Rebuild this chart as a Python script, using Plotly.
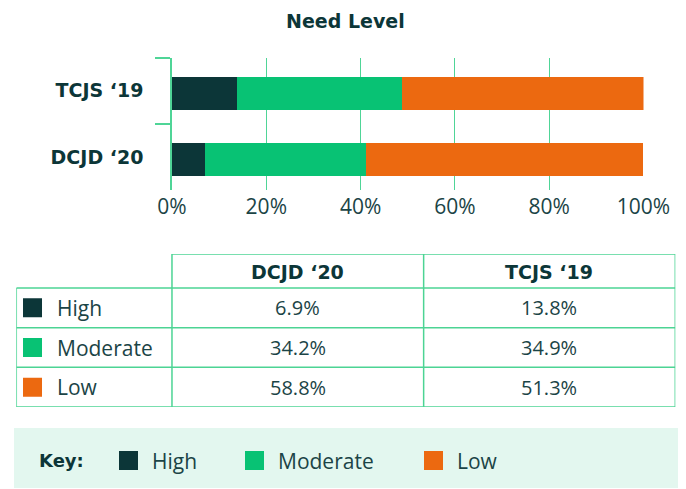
import plotly.graph_objects as go

# ---------------- data ----------------
categories = ["DCJD ‘20", "TCJS ‘19"]          # bottom -> top in the bar chart; also table column order
levels = ["High", "Moderate", "Low"]
high = [6.9, 13.8]
moderate = [34.2, 34.9]
low = [58.8, 51.3]
x_tickvals = [0, 20, 40, 60, 80, 100]
x_ticktext = ["0%", "20%", "40%", "60%", "80%", "100%"]
chart_title = "Need Level"
key_title = "Key:"

# ---------------- style ----------------
W, H = 686, 489
DARK = "#0C3638"
TEXT = "#1B4446"
GRID = "#4FD597"
BORDER = "#4CD494"
KEY_BG = "#E3F7EF"
colors = {"High": "#0C3638", "Moderate": "#08C274", "Low": "#EC6910"}
BOLD_FONT = "DejaVu Sans"
REG_FONT = "Open Sans"

series = {"High": high, "Moderate": moderate, "Low": low}


def px(x):
    return x / W


def py(y):
    return 1 - y / H


fig = go.Figure()

# ---------------- stacked bars ----------------
for lvl in levels:
    fig.add_trace(go.Bar(
        y=categories, x=series[lvl], orientation="h", name=lvl,
        marker=dict(color=colors[lvl], line=dict(width=0)),
        width=0.5, offset=-0.285,
        showlegend=False, hoverinfo="x+name",
        xaxis="x", yaxis="y",
    ))

# ---------------- table (on its own hidden axes, column/row units) ----------------
col_w = [0.6186, 1.0, 1.0]
col_edges = [0.0]
for w in col_w:
    col_edges.append(col_edges[-1] + w)
hdr = 0.857  # header row height relative to a data row
n_rows = len(levels)

shapes = []
line = dict(color=BORDER, width=1.5)
# horizontal lines
shapes.append(dict(type="line", xref="x2", yref="y2", x0=col_edges[1], x1=col_edges[-1], y0=-hdr, y1=-hdr, line=line))
for r in range(n_rows + 1):
    shapes.append(dict(type="line", xref="x2", yref="y2", x0=col_edges[0], x1=col_edges[-1], y0=r, y1=r, line=line))
# vertical lines
shapes.append(dict(type="line", xref="x2", yref="y2", x0=col_edges[0], x1=col_edges[0], y0=0, y1=n_rows, line=line))
for c in range(1, len(col_edges)):
    shapes.append(dict(type="line", xref="x2", yref="y2", x0=col_edges[c], x1=col_edges[c], y0=-hdr, y1=n_rows, line=line))

annotations = []
# header text
for j, cat in enumerate(categories):
    cx = (col_edges[j + 1] + col_edges[j + 2]) / 2
    annotations.append(dict(xref="x2", yref="y2", x=cx, y=-hdr / 2 + 0.02, text=cat, showarrow=False,
                            font=dict(family=BOLD_FONT, size=19, color=DARK, weight="bold"),
                            xanchor="center", yanchor="middle"))
# row labels + values
swatch_x = 0.0644
label_x = 0.1537
for i, lvl in enumerate(levels):
    annotations.append(dict(xref="x2", yref="y2", x=label_x, y=i + 0.5, text=lvl, showarrow=False,
                            font=dict(family=REG_FONT, size=21, color=TEXT),
                            xanchor="left", yanchor="middle"))
    for j, cat in enumerate(categories):
        cx = (col_edges[j + 1] + col_edges[j + 2]) / 2
        annotations.append(dict(xref="x2", yref="y2", x=cx, y=i + 0.5, text=f"{series[lvl][j]:.1f}%",
                                showarrow=False, font=dict(family=REG_FONT, size=20, color=TEXT),
                                xanchor="center", yanchor="middle"))

fig.add_trace(go.Scatter(
    x=[swatch_x] * n_rows, y=[i + 0.5 for i in range(n_rows)], mode="markers",
    marker=dict(symbol="square", size=19, color=[colors[l] for l in levels], line=dict(width=0)),
    xaxis="x2", yaxis="y2", showlegend=False, hoverinfo="skip",
))

# ---------------- key ----------------
key_swatch_x = [128.5, 254.5, 433.5]
key_text_x = [150, 276, 455]
key_y = 460.5
shapes.append(dict(type="rect", xref="paper", yref="paper", x0=px(14), x1=px(678), y0=py(488), y1=py(428),
                   fillcolor=KEY_BG, line=dict(width=0), layer="below"))
fig.add_trace(go.Scatter(
    x=key_swatch_x, y=[key_y] * len(levels), mode="markers",
    marker=dict(symbol="square", size=19, color=[colors[l] for l in levels], line=dict(width=0)),
    xaxis="x3", yaxis="y3", showlegend=False, hoverinfo="skip",
))
annotations.append(dict(xref="x3", yref="y3", x=37, y=key_y, text=key_title, showarrow=False,
                        font=dict(family=BOLD_FONT, size=18, color=DARK, weight="bold"),
                        xanchor="left", yanchor="middle"))
for lvl, tx in zip(levels, key_text_x):
    annotations.append(dict(xref="x3", yref="y3", x=tx, y=key_y, text=lvl, showarrow=False,
                            font=dict(family=REG_FONT, size=21, color=TEXT),
                            xanchor="left", yanchor="middle"))

# title
annotations.append(dict(xref="paper", yref="paper", x=px(345), y=py(21), text=chart_title, showarrow=False,
                        font=dict(family=BOLD_FONT, size=19, color=DARK, weight="bold"),
                        xanchor="center", yanchor="middle"))

fig.update_layout(
    width=W, height=H, autosize=False,
    margin=dict(l=0, r=0, t=0, b=0, pad=0, autoexpand=False),
    paper_bgcolor="white", plot_bgcolor="rgba(0,0,0,0)",
    barmode="stack",
    showlegend=False,
    xaxis=dict(domain=[px(172), px(643.5)], range=[0, 100], tickvals=x_tickvals, ticktext=x_ticktext,
               showgrid=True, gridcolor=GRID, gridwidth=1.2, zeroline=False, showline=False, ticks="",
               tickfont=dict(family=REG_FONT, size=21, color=TEXT), anchor="y", fixedrange=True,
               ticklabelstandoff=2, automargin=False),
    yaxis=dict(domain=[py(190), py(57.7)], categoryorder="array", categoryarray=categories,
               range=[-0.5, 1.5],
               showline=True, linecolor=GRID, linewidth=1.5, ticks="outside", ticklen=15, tickwidth=1.5,
               tickcolor=GRID, tickson="boundaries", showgrid=False, zeroline=False,
               tickfont=dict(family=BOLD_FONT, size=19, color=DARK, weight="bold"),
               ticklabelstandoff=23, anchor="x", fixedrange=True, automargin=False),
    xaxis2=dict(domain=[px(16.3), px(675.3)], range=[col_edges[0], col_edges[-1]], visible=False,
                anchor="y2", fixedrange=True, automargin=False),
    yaxis2=dict(domain=[py(407), py(254)], range=[n_rows, -hdr], visible=False, anchor="x2", fixedrange=True,
                automargin=False),
    xaxis3=dict(domain=[0, 1], range=[0, W], visible=False, anchor="y3", fixedrange=True, automargin=False),
    yaxis3=dict(domain=[0, 1], range=[H, 0], visible=False, anchor="x3", fixedrange=True, automargin=False),
    shapes=shapes,
    annotations=annotations,
)

fig.write_html(
    "out.html",
    config={"displayModeBar": False},
    post_script="document.body.style.margin='0';document.body.style.overflow='hidden';",
)
